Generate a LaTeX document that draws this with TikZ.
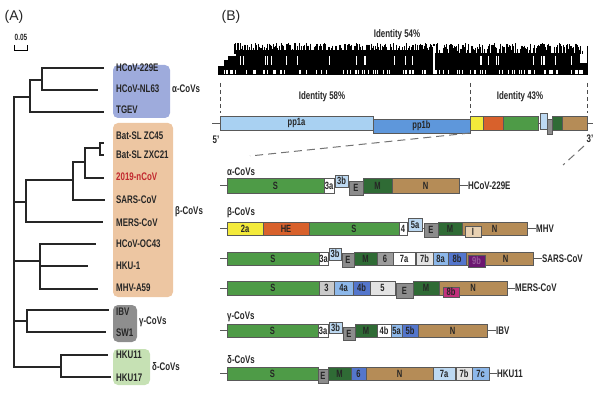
\documentclass[tikz,border=0pt]{standalone}
\usepackage{fontspec}
\setmainfont{Liberation Sans}[FakeStretch=0.72]
\newfontfamily\panelfont{Liberation Sans}
\definecolor{alphabg}{HTML}{9EABDC}
\definecolor{betabg}{HTML}{EDC6A2}
\definecolor{gammabg}{HTML}{8E8E8E}
\definecolor{deltabg}{HTML}{C6E1B4}
\definecolor{ncov}{HTML}{C1272D}
\definecolor{cPPa}{HTML}{A9D1F2}
\definecolor{cPPb}{HTML}{5E97DB}
\definecolor{cY}{HTML}{F3EA3B}
\definecolor{cHE}{HTML}{D8612C}
\definecolor{cS}{HTML}{4E9B47}
\definecolor{cM}{HTML}{2F6B35}
\definecolor{cN}{HTML}{B58C57}
\definecolor{cE}{HTML}{8C8C8C}
\definecolor{cLB}{HTML}{BDD9F2}
\definecolor{cG6}{HTML}{9C9C9C}
\definecolor{cLG}{HTML}{E3E3E3}
\definecolor{cLG2}{HTML}{CACACA}
\definecolor{cB8a}{HTML}{8DB8EA}
\definecolor{cB8b}{HTML}{5476CC}
\definecolor{cPur}{HTML}{6B1670}
\definecolor{cMag}{HTML}{C2307C}
\definecolor{cI}{HTML}{E8D1B2}
% one box of a genome map: name, x1, x2, y1, y2, colour, label
\newcommand{\gene}[7]{\node[gene,fill=#6,minimum width={(#3-#2)*1pt},minimum height={(#5-#4)*1pt}] (#1) at ({(#2+#3)/2},{(#4+#5)/2}) {#7};}
\begin{document}
\begin{tikzpicture}[x=1pt,y=-1pt,
  branch/.style={line width=1.4pt,draw=black!85,line cap=rect},
  taxon/.style={anchor=west,inner sep=0pt,font=\fontsize{11}{12}\selectfont\bfseries,text=black!85},
  clade/.style={rounded corners=5pt},
  gene/.style={draw=black!65,line width=0.7pt,inner sep=0pt,outer sep=0pt,font=\fontsize{10.5}{11}\selectfont\bfseries,text=black!85},
  stub/.style={draw=black!65,line width=0.7pt},
  cut/.style={dash pattern=on 4pt off 3pt,draw=black!70,line width=0.6pt},
  zoomline/.style={dash pattern=on 8pt off 5pt,draw=black!55,line width=1pt}]
\useasboundingbox (0,0) rectangle (602,395);

% ---------- (A) tree ----------
\node[font=\panelfont\fontsize{14}{15}\selectfont,text=black!85] (pa) at (14,17) {(A)};
\draw[line width=0.8pt] (14,45) -- (14,50) -- (27,50) -- (27,45);
\node[font=\fontsize{9}{10}\selectfont\bfseries,text=black!85] (sc) at (21,37) {0.05};

\fill[clade,alphabg] (113,65) rectangle (170,118);
\fill[clade,betabg] (113,123) rectangle (173,297);
\fill[clade,gammabg] (113,305) rectangle (137,342);
\fill[clade,deltabg] (113,349) rectangle (150,385);

% tips
\coordinate (t229E) at (103,68);  \coordinate (tNL63) at (97,90);
\coordinate (tTGEV) at (103,112); \coordinate (tZC45) at (103,143);
\coordinate (tZXC21) at (103,155); \coordinate (tnCoV) at (103,178);
\coordinate (tSARS) at (104,200); \coordinate (tMERS) at (102,222);
\coordinate (tOC43) at (95,244);  \coordinate (tHKU1) at (87,266);
\coordinate (tMHV) at (97,289);   \coordinate (tIBV) at (108,310);
\coordinate (tSW1) at (105,332);  \coordinate (tHKU11) at (107,355);
\coordinate (tHKU17) at (110,377);
% inner nodes
\coordinate (n1) at (42,80);  \coordinate (n2) at (30,97);
\coordinate (n3) at (100,148); \coordinate (n4) at (85,162);
\coordinate (n5) at (73,180); \coordinate (n6) at (26,202);
\coordinate (n7) at (40,261); \coordinate (n8) at (27,321);
\coordinate (n9) at (61,367); \coordinate (root) at (14,230);
\foreach \a/\b in {n1/t229E,n1/tNL63,n2/n1,n2/tTGEV,n3/tZC45,n3/tZXC21,
  n4/n3,n4/tnCoV,n5/n4,n5/tSARS,n6/n5,n6/tMERS,n7/tOC43,n7/tHKU1,n7/tMHV,
  n8/tIBV,n8/tSW1,n9/tHKU11,n9/tHKU17,root/n2,root/n6,root/n7,root/n8,root/n9}
  \draw[branch] (\a) |- (\b);

\node[taxon] (l229E) at (116,68) {HCoV-229E};
\node[taxon] (lNL63) at (116,89) {HCoV-NL63};
\node[taxon] (lTGEV) at (116,110) {TGEV};
\node[taxon] (lZC45) at (116,136) {Bat-SL ZC45};
\node[taxon] (lZXC21) at (116,155) {Bat-SL ZXC21};
\node[taxon,text=ncov] (lnCoV) at (116,177) {2019-nCoV};
\node[taxon] (lSARS) at (116,200) {SARS-CoV};
\node[taxon] (lMERS) at (116,223) {MERS-CoV};
\node[taxon] (lOC43) at (116,244) {HCoV-OC43};
\node[taxon] (lHKU1) at (116,266) {HKU-1};
\node[taxon] (lMHV) at (116,288) {MHV-A59};
\node[taxon] (lIBV) at (116,312) {IBV};
\node[taxon] (lSW1) at (116,333) {SW1};
\node[taxon] (lHKU11) at (116,355) {HKU11};
\node[taxon] (lHKU17) at (116,378) {HKU17};
\node[taxon] (calpha) at (172,89) {α-CoVs};
\node[taxon] (cbeta) at (175,212) {β-CoVs};
\node[taxon] (cgamma) at (139,322) {γ-CoVs};
\node[taxon] (cdelta) at (152,367) {δ-CoVs};

% ---------- (B) genomes ----------
\node[font=\panelfont\fontsize{14}{15}\selectfont,text=black!85] (pb) at (231,17) {(B)};
\node[taxon,anchor=center] (id54) at (397,35) {Identity 54\%};

% identity barcode
\pgfmathsetseed{42}
\fill (236,50) rectangle (432,75);
\fill (432,53) rectangle (580,75);
\fill (228,56) rectangle (236,75);
\fill (224,60) rectangle (229,75);
\fill (218,66) rectangle (225,75);
\fill (579,63) rectangle (588,75);
\foreach \i in {1,...,450}{
  \pgfmathsetmacro{\bx}{232+350*rnd}
  \pgfmathsetmacro{\by}{43+8*rnd}
  \draw[line width=0.5pt] (\bx,\by) -- (\bx,54);
}
\foreach \i in {1,...,110}{
  \pgfmathsetmacro{\bx}{222+360*rnd}
  \draw[white,line width=0.6pt] (\bx,70) -- (\bx,74);
}
\foreach \i in {1,...,25}{
  \pgfmathsetmacro{\bx}{232+348*rnd}
  \draw[white,line width=0.4pt] (\bx,56) -- (\bx,65);
}
\draw[white,line width=1.2pt] (434,46) -- (434,70);
\draw[line width=0.6pt] (587,46) -- (587,75);

% genome overview
\coordinate (c5) at (220,83); \coordinate (cm) at (470,83); \coordinate (c3) at (587,83);
\foreach \c in {c5,cm,c3} \draw[cut] (\c) -- ++(0,30);
\node[taxon,anchor=center] (id58) at (322,97) {Identity 58\%};
\node[taxon,anchor=center] (id43) at (520,97) {Identity 43\%};
\coordinate (g5) at (212,123); \coordinate (g3) at (593,123);
\draw[stub] (g5) -- (g3);
\gene{pp1a}{220}{373}{116}{130}{cPPa}{pp1a}
\gene{pp1b}{373}{470}{119}{133}{cPPb}{pp1b}
\gene{gY}{470}{483}{116}{130}{cY}{}
\gene{gHE}{483}{503}{116}{130}{cHE}{}
\gene{gS}{503}{538}{116}{130}{cS}{}
\gene{gLB}{540}{547}{113}{129}{cLB}{}
\gene{gE}{547}{552}{119}{134}{cE}{}
\gene{gM}{552}{562}{116}{130}{cM}{}
\gene{gN}{562}{587}{116}{130}{cN}{}
\node[taxon,anchor=center] (p5) at (216,140) {5'};
\node[taxon,anchor=center] (p3) at (590,139) {3'};
\coordinate (zl) at (250,156); \coordinate (zr) at (563,165);
\draw[zoomline] (pp1b.south east) -- (zl);
\draw[zoomline] (584,146) -- (zr);

% alpha
\node[taxon] (galpha) at (227,172) {α-CoVs};
\node[taxon] (v229E) at (468,185.5) {HCoV-229E};
\coordinate (a0) at (220,185.5);
\draw[stub] (a0) -- (v229E.west);
\gene{aS}{227}{324}{178}{193}{cS}{S}
\gene{a3a}{324}{334}{178}{193}{white}{3a}
\gene{a3b}{335}{348}{175}{187}{cLB}{3b}
\gene{aE}{349}{363}{181}{195}{cE}{E}
\gene{aM}{363}{392}{178}{193}{cM}{M}
\gene{aN}{392}{459}{178}{193}{cN}{N}

% beta: MHV
\node[taxon] (gbeta) at (227,213) {β-CoVs};
\node[taxon] (vMHV) at (536,228.5) {MHV};
\coordinate (b0) at (220,228.5);
\draw[stub] (b0) -- (vMHV.west);
\gene{b2a}{227}{263}{222}{235}{cY}{2a}
\gene{bHE}{263}{309}{222}{235}{cHE}{HE}
\gene{bS}{309}{399}{222}{235}{cS}{S}
\gene{b4}{399}{407}{222}{235}{white}{4}
\gene{b5a}{408}{422}{218}{231}{cLB}{5a}
\gene{bE}{424}{438}{223}{237}{cE}{E}
\gene{bM}{438}{462}{222}{235}{cM}{M}
\gene{bN}{462}{527}{222}{235}{cN}{N}
\gene{bI}{465}{481}{226}{237}{cI}{I}

% beta: SARS-CoV
\node[taxon] (vSARS) at (542,258.5) {SARS-CoV};
\coordinate (s0) at (220,258.5);
\draw[stub] (s0) -- (vSARS.west);
\gene{sS}{227}{319}{252}{265}{cS}{S}
\gene{s3a}{319}{328}{252}{265}{white}{3a}
\gene{s3b}{329}{341}{248}{260}{cLB}{3b}
\gene{sE}{342}{354}{253}{267}{cE}{E}
\gene{sM}{354}{377}{252}{265}{cM}{M}
\gene{s6}{377}{393}{252}{265}{cG6}{6}
\gene{s7a}{393}{415}{252}{265}{white}{7a}
\gene{s7b}{416}{433}{252}{265}{cLG}{7b}
\gene{s8a}{433}{448}{252}{265}{cB8a}{8a}
\gene{s8b}{448}{466}{252}{265}{cB8b}{8b}
\gene{sN}{466}{533}{252}{265}{cN}{\hspace*{12pt}N}
\gene{s9b}{468}{485}{255}{267}{cPur}{\textcolor{cPur!70!white}{9b}}

% beta: MERS-CoV
\node[taxon] (vMERS) at (515,288) {MERS-CoV};
\coordinate (m0) at (220,288);
\draw[stub] (m0) -- (vMERS.west);
\gene{mS}{227}{319}{281}{295}{cS}{S}
\gene{m3}{319}{334}{281}{295}{cLG2}{3}
\gene{m4a}{334}{353}{281}{295}{cB8a}{4a}
\gene{m4b}{353}{370}{281}{295}{cB8b}{4b}
\gene{m5}{370}{395}{281}{295}{cLG}{5}
\gene{mE}{396}{413}{283}{298}{cE}{E}
\gene{mM}{413}{439}{281}{295}{cM}{M}
\gene{mN}{439}{507}{281}{295}{cN}{N}
\gene{m8b}{443}{459}{287}{297}{cMag}{8b}

% gamma: IBV
\node[taxon] (ggamma) at (227,317) {γ-CoVs};
\node[taxon] (vIBV) at (496,330.5) {IBV};
\coordinate (i0) at (220,330.5);
\draw[stub] (i0) -- (vIBV.west);
\gene{iS}{227}{318}{324}{337}{cS}{S}
\gene{i3a}{318}{328}{324}{337}{white}{3a}
\gene{i3b}{329}{342}{322}{333}{cLB}{3b}
\gene{iE}{343}{355}{327}{340}{cE}{E}
\gene{iM}{355}{377}{324}{337}{cM}{M}
\gene{i4b}{377}{391}{324}{337}{white}{4b}
\gene{i5a}{391}{402}{324}{337}{cB8a}{5a}
\gene{i5b}{402}{418}{324}{337}{cB8b}{5b}
\gene{iN}{418}{487}{324}{337}{cN}{N}

% delta: HKU11
\node[taxon] (gdelta) at (227,360) {δ-CoVs};
\node[taxon] (vHKU11) at (497,373.5) {HKU11};
\coordinate (d0) at (220,373.5);
\draw[stub] (d0) -- (vHKU11.west);
\gene{dS}{227}{318}{367}{380}{cS}{S}
\gene{dE}{318}{328}{369}{383}{cE}{E}
\gene{dM}{328}{351}{367}{380}{cM}{M}
\gene{d6}{351}{366}{367}{380}{cB8b}{6}
\gene{dN}{366}{433}{367}{380}{cN}{N}
\gene{d7a}{433}{455}{367}{380}{cLB}{7a}
\gene{d7b}{456}{472}{367}{380}{cLG}{7b}
\gene{d7c}{472}{489}{367}{380}{cB8a}{7c}
\end{tikzpicture}
\end{document}
